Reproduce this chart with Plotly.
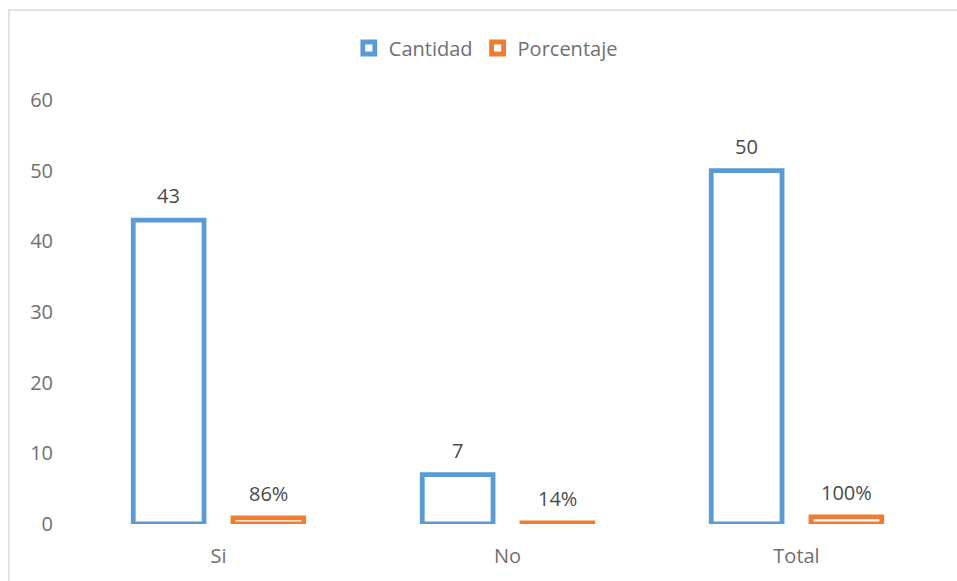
import plotly.graph_objects as go

# Survey answers: counts and shares
categorias = ["Si", "No", "Total"]
cantidad = [43, 7, 50]
porcentaje = [0.86, 0.14, 1.00]

AZUL = "#5B9BD5"
NARANJA = "#ED7D31"
TEXTO = "#707070"
ETIQUETA = "#4A4A4A"
FUENTE = "Open Sans"

BARGAP = 0.31
BARGROUPGAP = 0.29

W, H = 957, 581
M_L, M_R, M_T, M_B = 74, 16, 100, 57
plot_w = W - M_L - M_R
plot_h = H - M_T - M_B

fig = go.Figure()
fig.add_bar(
    name="Cantidad", x=categorias, y=cantidad,
    marker=dict(color="white", line=dict(color=AZUL, width=4.8)),
)
fig.add_bar(
    name="Porcentaje", x=categorias, y=porcentaje,
    marker=dict(color="white", line=dict(color=NARANJA, width=4.8)),
)

# Value labels above each bar, centred on its slot in the group
slot = (1 - BARGAP) / 2
anots = []
for i, c in enumerate(cantidad):
    anots.append(dict(x=i - slot / 2, y=c, text=str(c), xref="x", yref="y",
                      showarrow=False, yanchor="bottom", yshift=9,
                      font=dict(family=FUENTE, size=20, color=ETIQUETA)))
for i, p in enumerate(porcentaje):
    anots.append(dict(x=i + slot / 2, y=p, text=f"{p:.0%}", xref="x", yref="y",
                      showarrow=False, yanchor="bottom", yshift=9,
                      font=dict(family=FUENTE, size=20, color=ETIQUETA)))

fig.update_layout(
    width=W, height=H,
    margin=dict(l=M_L, r=M_R, t=M_T, b=M_B),
    paper_bgcolor="white", plot_bgcolor="white",
    barmode="group", bargap=BARGAP, bargroupgap=BARGROUPGAP,
    font=dict(family=FUENTE, size=20, color=TEXTO),
    showlegend=True,
    legend=dict(orientation="h", x=0.475, xanchor="center",
                y=(plot_h - 48 + M_T) / plot_h, yanchor="middle",
                font=dict(family=FUENTE, size=20, color=TEXTO),
                itemwidth=30, tracegroupgap=0),
    annotations=anots,
    xaxis=dict(type="category", range=[-0.5, 2.5], showline=False, showgrid=False,
               ticks="", ticklabelstandoff=18,
               tickfont=dict(family=FUENTE, size=20, color=TEXTO)),
    yaxis=dict(range=[0, 60], dtick=10, showgrid=False, zeroline=False, showline=False,
               ticks="", ticklabelstandoff=20,
               tickfont=dict(family=FUENTE, size=20, color=TEXTO)),
    shapes=[dict(type="rect", xref="paper", yref="paper",
                 x0=(9 - M_L) / plot_w, x1=(W + 20 - M_L) / plot_w,
                 y0=-(M_B + 20) / plot_h, y1=(H - M_B - 10) / plot_h,
                 line=dict(color="#D9D9D9", width=1.5), fillcolor="rgba(0,0,0,0)",
                 layer="below")],
)

fig.write_html("out.html")
